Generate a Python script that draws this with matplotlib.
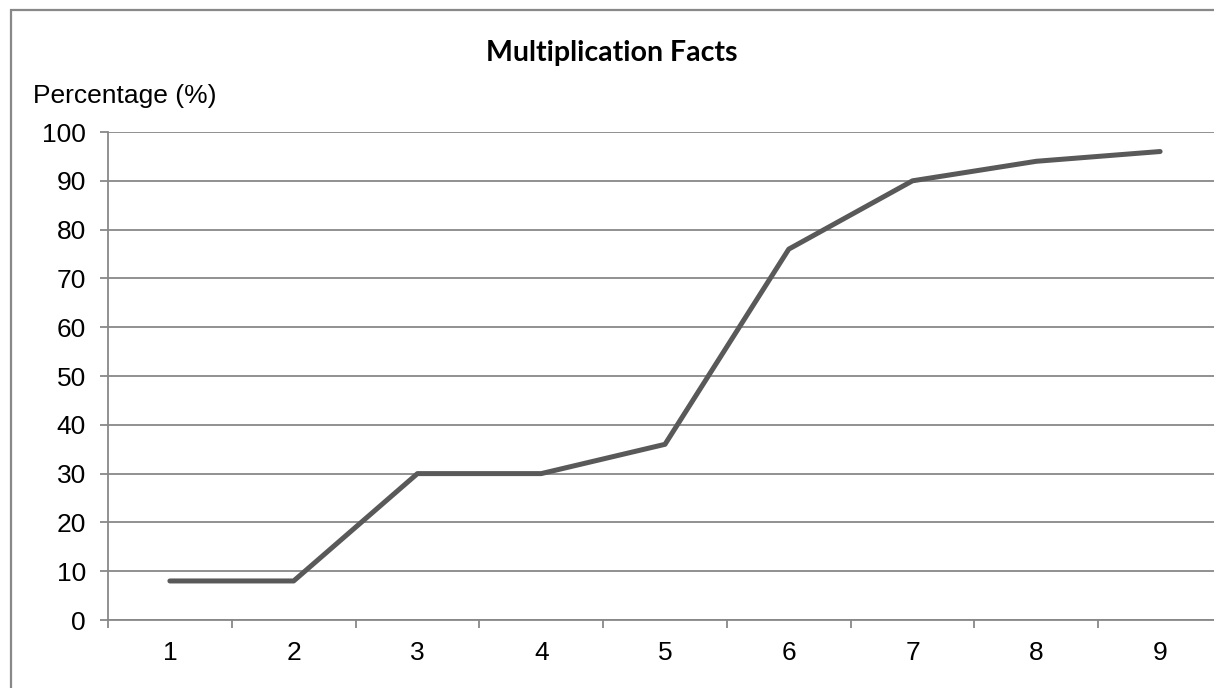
import numpy as np
import matplotlib
matplotlib.use('Agg')
import matplotlib.pyplot as plt
from matplotlib.patches import Rectangle

categories = ['1', '2', '3', '4', '5', '6', '7', '8', '9']
percentages = [8, 8, 30, 30, 36, 76, 90, 94, 96]
y_ticks = [0, 10, 20, 30, 40, 50, 60, 70, 80, 90, 100]

W, H = 1214, 688
fig = plt.figure(figsize=(W / 100, H / 100), dpi=100)
plt.rcParams['font.family'] = ['Liberation Sans', 'DejaVu Sans']

grey = '#888888'

# outer chart border (right and bottom edges are cut off in the reference)
fig.patches.append(Rectangle((11 / W, -0.1), 1.2, 1 - 10 / H + 0.1,
                             transform=fig.transFigure, fill=False,
                             edgecolor=grey, linewidth=1.6))

ax = fig.add_axes([108 / W, 68 / H, (1222 - 108) / W, (620 - 132) / H])

xs = np.arange(1, len(categories) + 1)
ax.plot(xs, percentages, color='#595959', linewidth=3.6,
        solid_capstyle='round', solid_joinstyle='round', zorder=3)

ax.set_xlim(0.5, len(categories) + 0.5)
ax.set_ylim(0, 100)
ax.set_yticks(y_ticks)
ax.set_xticks(xs)
ax.set_xticklabels(categories)
ax.set_xticks(np.arange(0.5, len(categories) + 1), minor=True)

ax.grid(axis='y', color=grey, linewidth=1.3)
ax.set_axisbelow(True)

for s in ['top', 'right']:
    ax.spines[s].set_visible(False)
for s in ['left', 'bottom']:
    ax.spines[s].set_color(grey)
    ax.spines[s].set_linewidth(1.3)

ax.tick_params(axis='y', length=6, width=1.3, color=grey, pad=10, labelsize=19)
ax.tick_params(axis='x', which='major', length=0, pad=15, labelsize=19)
ax.tick_params(axis='x', which='minor', length=6, width=1.3, color=grey)

fig.text(612 / W, 1 - 53 / H, 'Multiplication Facts', ha='center', va='center',
         fontsize=20.5, fontweight='bold', family=['Lato', 'DejaVu Sans'])
fig.text(33 / W, 1 - 96 / H, 'Percentage (%)', ha='left', va='center',
         fontsize=19)

fig.savefig('out.png', dpi=100)
